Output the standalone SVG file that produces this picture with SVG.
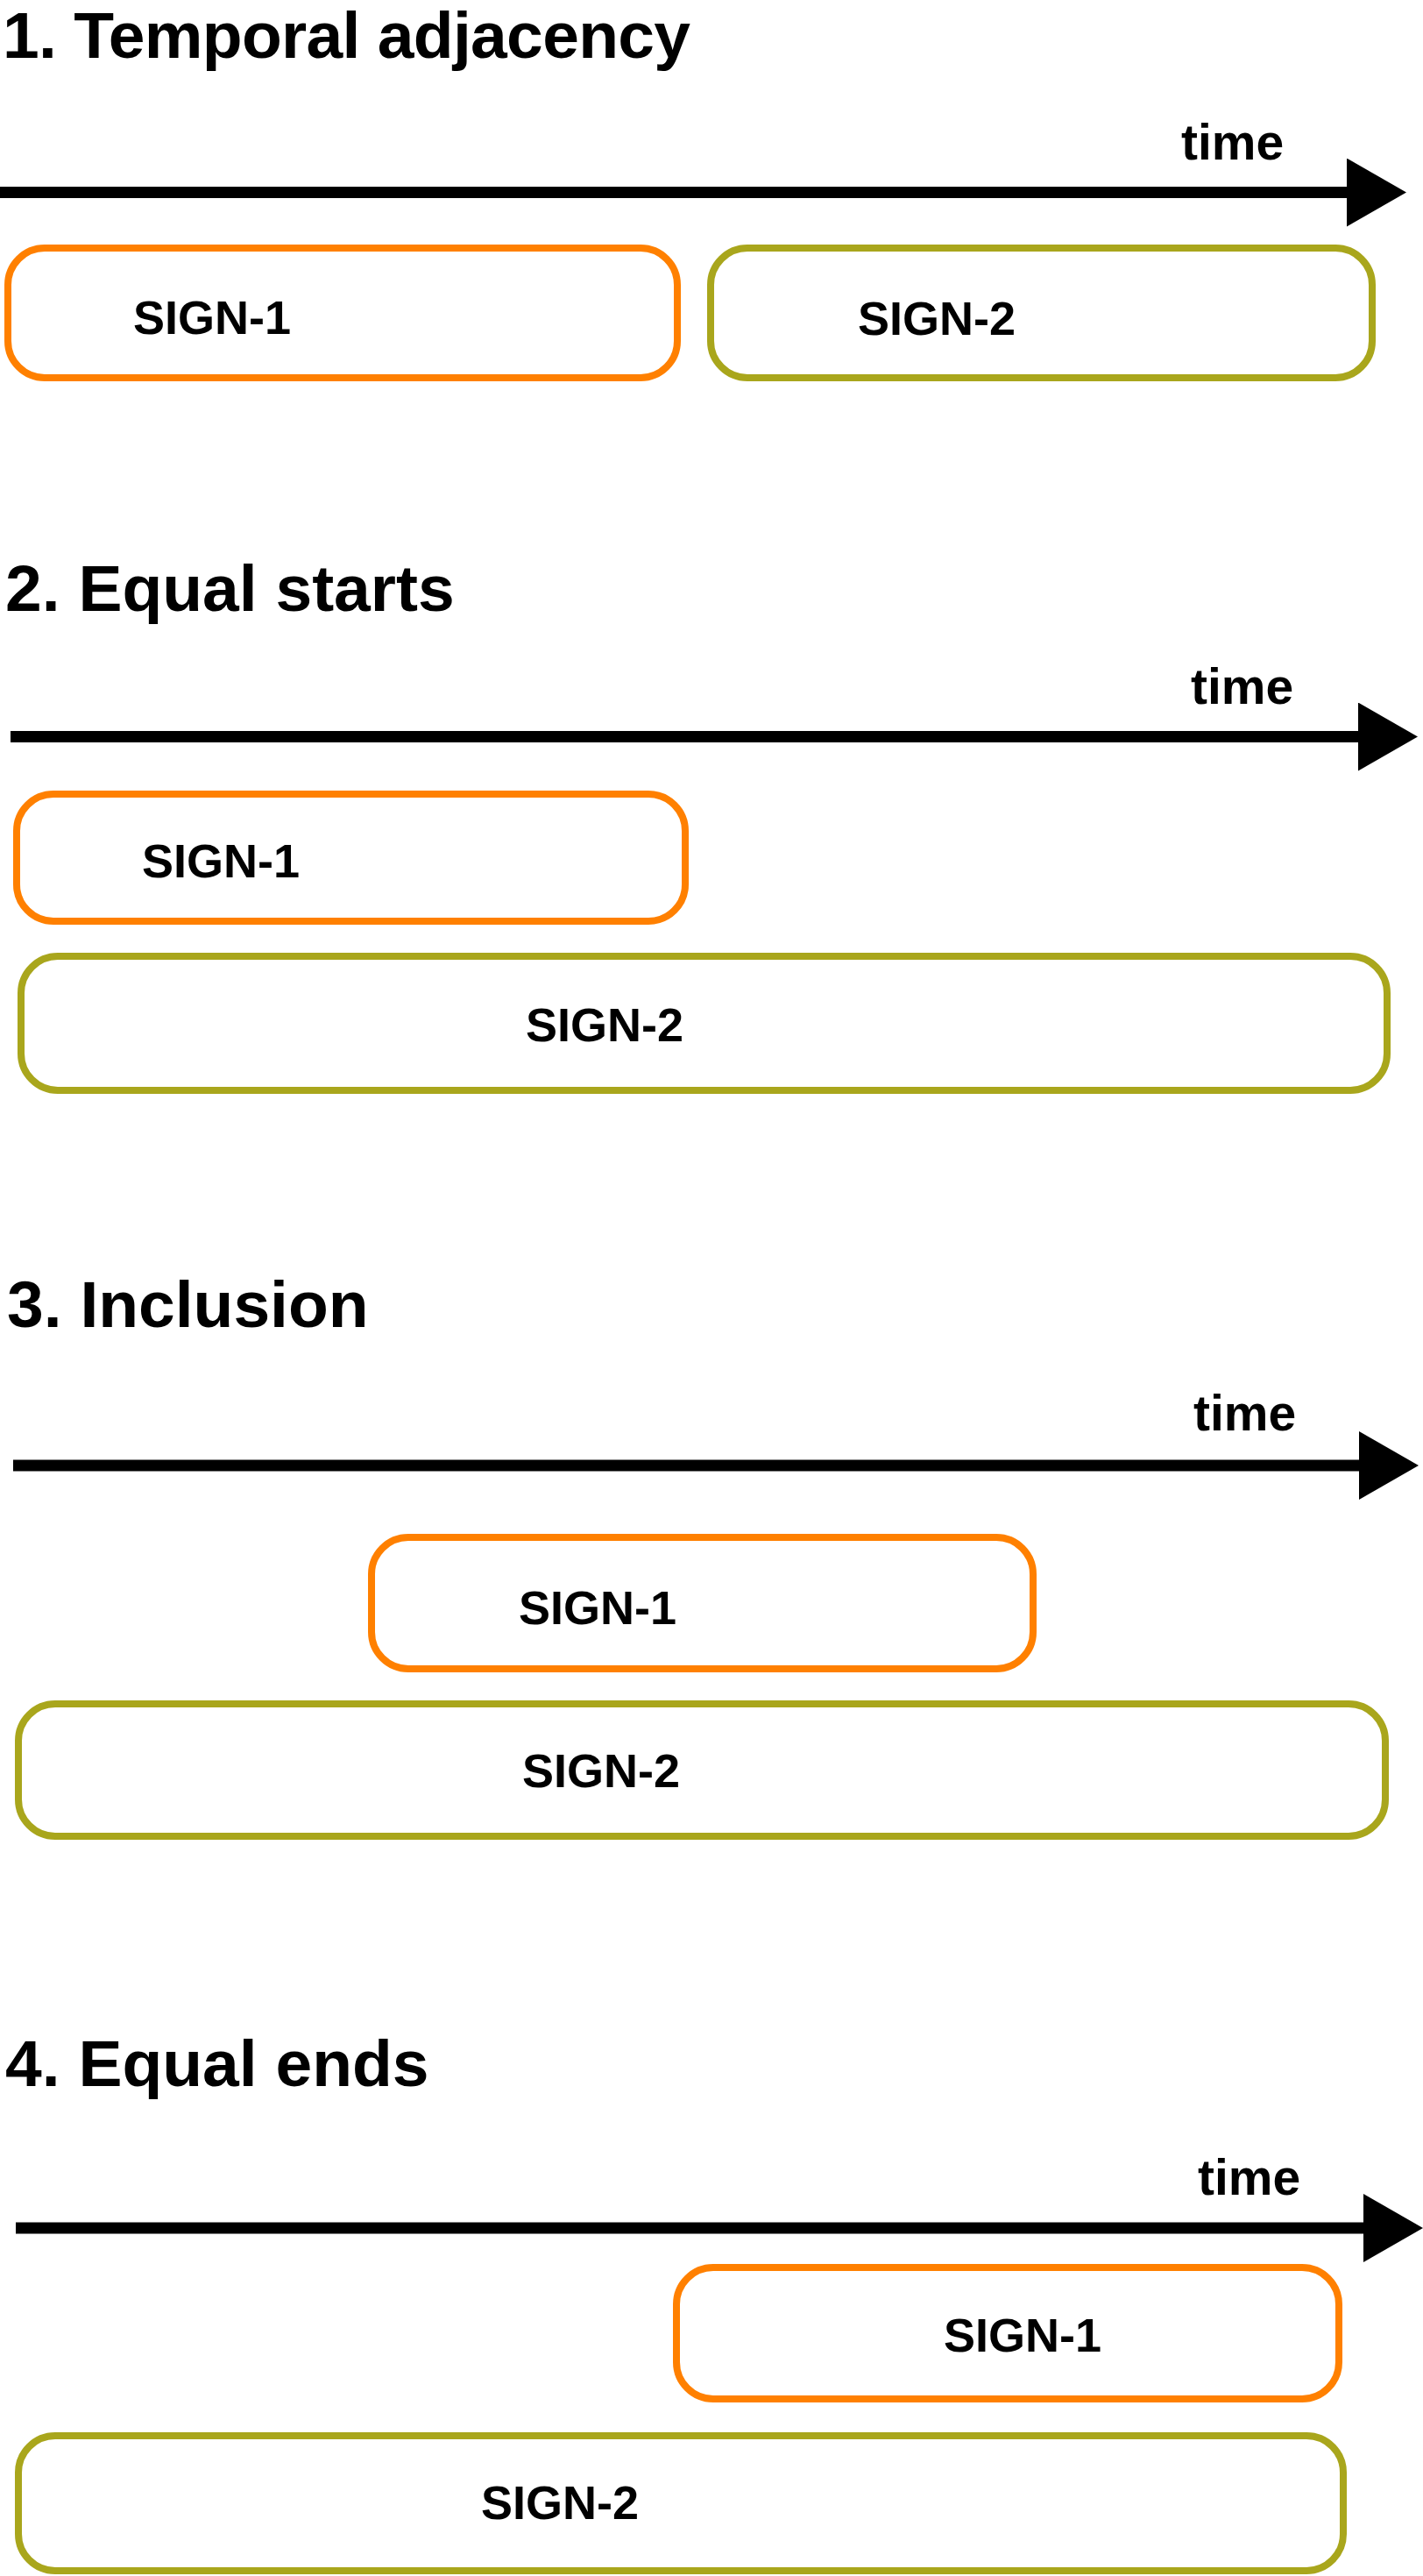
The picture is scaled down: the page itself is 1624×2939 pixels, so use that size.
<svg xmlns="http://www.w3.org/2000/svg" width="1624" height="2939" viewBox="0 0 1624 2939">
<style>
.title{font-family:"Liberation Sans",Arial,sans-serif;font-weight:bold;font-size:75px;fill:#000}
.time{font-family:"Liberation Sans",Arial,sans-serif;font-weight:bold;font-size:57px;fill:#000}
.lbl{font-family:"Liberation Sans",Arial,sans-serif;font-weight:bold;font-size:54px;fill:#000}
.s1{fill:#fff;stroke:#ff8000;stroke-width:8}
.s2{fill:#fff;stroke:#a9a61c;stroke-width:8}
.axis{stroke:#000;stroke-width:13;fill:none;marker-end:url(#head)}
</style>
<defs>
<marker id="head" markerUnits="userSpaceOnUse" markerWidth="68" markerHeight="78" viewBox="0 0 68 78" refX="0" refY="39" orient="auto">
<path d="M0,0 L68,39 L0,78 Z" fill="#000"/>
</marker>
</defs>
<rect width="1624" height="2939" fill="#fff"/>
<g id="titles">
<text class="title" x="3" y="66" textLength="785" lengthAdjust="spacing">1. Temporal adjacency</text>
<text class="title" x="6" y="697">2. Equal starts</text>
<text class="title" x="8" y="1514">3. Inclusion</text>
<text class="title" x="6" y="2380">4. Equal ends</text>
</g>
<g id="connectors">
<line class="axis" x1="0" y1="219.5" x2="1537" y2="219.5"/>
<text class="time" x="1348" y="182">time</text>
<line class="axis" x1="12" y1="840.5" x2="1550" y2="840.5"/>
<text class="time" x="1359" y="803">time</text>
<line class="axis" x1="15" y1="1672" x2="1551" y2="1672"/>
<text class="time" x="1362" y="1632">time</text>
<line class="axis" x1="18" y1="2542" x2="1556" y2="2542"/>
<text class="time" x="1367" y="2504">time</text>
</g>
<g id="sec1-sign1"><rect class="s1" x="9" y="283" width="764" height="148" rx="42"/><text class="lbl" x="152" y="381">SIGN-1</text></g>
<g id="sec1-sign2"><rect class="s2" x="811" y="283" width="755" height="148" rx="42"/><text class="lbl" x="979" y="382">SIGN-2</text></g>
<g id="sec2-sign1"><rect class="s1" x="19" y="906" width="763" height="145" rx="42"/><text class="lbl" x="162" y="1001">SIGN-1</text></g>
<g id="sec2-sign2"><rect class="s2" x="24" y="1091" width="1559" height="153" rx="42"/><text class="lbl" x="600" y="1188">SIGN-2</text></g>
<g id="sec3-sign1"><rect class="s1" x="424" y="1754" width="755" height="150" rx="42"/><text class="lbl" x="592" y="1853">SIGN-1</text></g>
<g id="sec3-sign2"><rect class="s2" x="21" y="1944" width="1560" height="151" rx="42"/><text class="lbl" x="596" y="2039">SIGN-2</text></g>
<g id="sec4-sign1"><rect class="s1" x="772" y="2587" width="756" height="150" rx="42"/><text class="lbl" x="1077" y="2683">SIGN-1</text></g>
<g id="sec4-sign2"><rect class="s2" x="21" y="2779" width="1512" height="154" rx="42"/><text class="lbl" x="549" y="2874">SIGN-2</text></g>
</svg>
